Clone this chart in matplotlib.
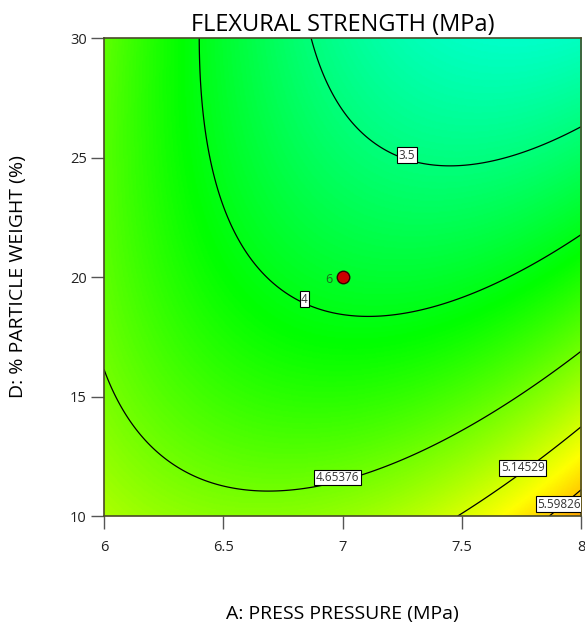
import numpy as np
import matplotlib
matplotlib.use("Agg")
import matplotlib.pyplot as plt
from matplotlib.colors import LinearSegmentedColormap

plt.rcParams["font.family"] = ["Open Sans", "DejaVu Sans"]

# fitted response surface, coded factors: a = A - 7, d = (D - 20) / 10
coef_terms = ["1", "a", "d", "ad", "a2", "d2", "a2d", "ad2", "a3", "d3"]
coef_vals = [3.8844, -0.2059, -0.7006, -0.5657, 0.5055, 0.2256,
             -0.0387, 0.0298, 0.0393, -0.0151]

contour_levels = [3.5, 4.0, 4.65376, 5.14529, 5.59826]
contour_labels = ["3.5", "4", "4.65376", "5.14529", "5.59826"]
# where the boxed labels sit (A, D)
label_spots = [(7.28, 25.2), (6.85, 19.1), (6.97, 11.8), (7.74, 12.05), (7.90, 10.4)]

center_A = [7.0]
center_D = [20.0]
center_reps = ["6"]

x_ticks = [6, 6.5, 7, 7.5, 8]
y_ticks = [10, 15, 20, 25, 30]

A = np.linspace(6, 8, 401)
D = np.linspace(10, 30, 401)
AA, DD = np.meshgrid(A, D)
a = AA - 7.0
d = (DD - 20.0) / 10.0
terms = {"1": np.ones_like(a), "a": a, "d": d, "ad": a * d, "a2": a * a,
         "d2": d * d, "a2d": a * a * d, "ad2": a * d * d, "a3": a ** 3, "d3": d ** 3}
Z = sum(c * terms[t] for t, c in zip(coef_terms, coef_vals))

cmap = LinearSegmentedColormap.from_list(
    "dx", ["#0000ff", "#00ffff", "#00ff00", "#ffff00", "#ff0000"])

fig = plt.figure(figsize=(5.85, 6.23), dpi=100)
ax = fig.add_axes([0.1778, 0.1717, 0.8154, 0.7673])

ax.imshow(Z, origin="lower", extent=[6, 8, 10, 30], aspect="auto",
          cmap=cmap, vmin=1.6, vmax=6.6, interpolation="bilinear")
cs = ax.contour(AA, DD, Z, levels=contour_levels, colors="black", linewidths=0.9)
fmt = dict(zip(contour_levels, contour_labels))
txts = ax.clabel(cs, levels=contour_levels, fmt=fmt, inline=False,
                 manual=label_spots, fontsize=8.5, colors="#333333")
for t in txts:
    x, y = t.get_position()
    t.set_position((x, y + 0.18))
    t.set_rotation(0)
    t.set_bbox(dict(facecolor="white", edgecolor="black", linewidth=0.8, pad=1.0))

ax.plot(center_A, center_D, "o", ms=9, mfc="#cc0000", mec="#330000", mew=1)
for x, y, s in zip(center_A, center_D, center_reps):
    ax.annotate(s, (x, y), xytext=(-10, -2), textcoords="offset points",
                ha="center", va="center", fontsize=9, color="#1a6b1a")

ax.set_xlim(6, 8)
ax.set_ylim(10, 30)
ax.set_xticks(x_ticks)
ax.set_xticklabels(["6", "6.5", "7", "7.5", "8"])
ax.set_yticks(y_ticks)
ax.tick_params(direction="out", length=9.5, width=1, color="#555555",
               labelsize=10.5, labelcolor="#222222")
ax.tick_params(axis="x", pad=8)
ax.tick_params(axis="y", pad=3)
for sp in ax.spines.values():
    sp.set_color("#4a4a2a")
    sp.set_linewidth(1.2)

ax.set_title("FLEXURAL STRENGTH (MPa)", fontsize=17, pad=5)
ax.set_xlabel("A: PRESS PRESSURE (MPa)", fontsize=14, labelpad=36)
ax.set_ylabel("D: % PARTICLE WEIGHT (%)", fontsize=14, labelpad=31)

fig.savefig("out.png", dpi=100)
